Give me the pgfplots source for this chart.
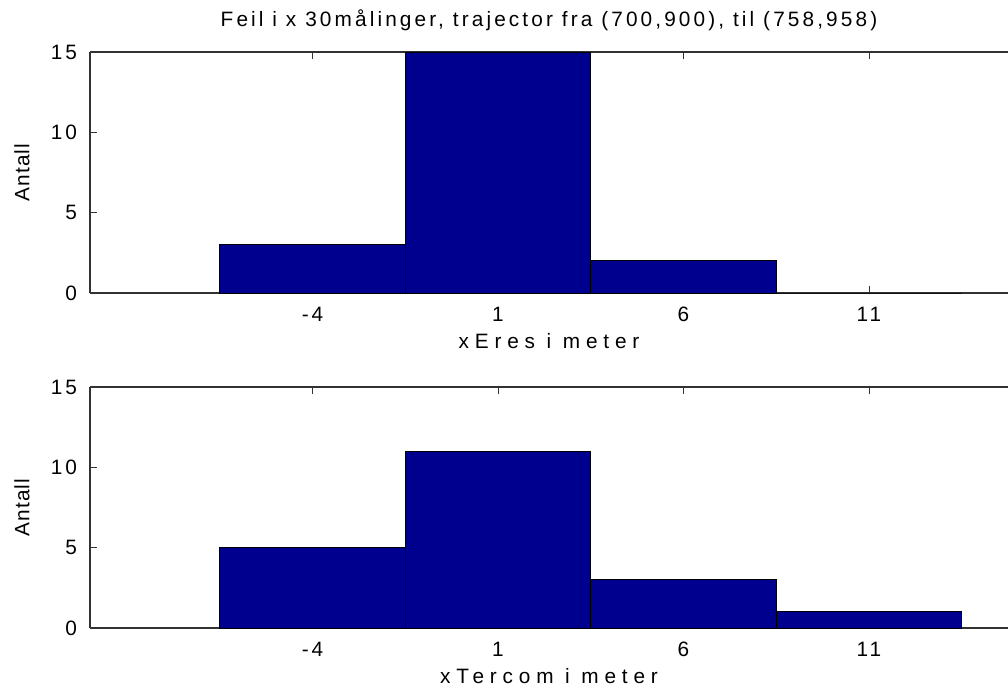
\documentclass[border=0pt]{standalone}
\usepackage{fontspec}
\setmainfont{Liberation Sans}[LetterSpace=14]
\newfontfamily\titlefont{Liberation Sans}[LetterSpace=15]
\newfontfamily\labelfont{Liberation Sans}[LetterSpace=28]
\newfontfamily\ylabfont{Liberation Sans}[LetterSpace=5]
\usepackage{pgfplots}
\pgfplotsset{compat=1.18}
\definecolor{barblue}{RGB}{0,0,143}
\definecolor{axgray}{RGB}{50,50,50}
\pgfplotsset{
  hist/.style={
    scale only axis, width=459pt, height=120.5pt,
    xmin=-10, xmax=14.75, ymin=0, ymax=15,
    xtick={-4,1,6,11}, ytick={0,5,10,15},
    axis x line*=box, axis y line*=left,
    tick align=inside, major tick length=3.5pt,
    tick style={axgray, line width=0.4pt},
    axis line style={axgray, line width=0.7pt},
    font=\fontsize{10.4}{12}\selectfont,
    /pgf/number format/assume math mode=true,
    xticklabel style={anchor=base, yshift=-14.2pt},
    yticklabel style={anchor=east, xshift=-3pt},
    every axis y label/.style={at={(axis description cs:-0.074,0.5)}, rotate=90, anchor=center},
    every axis x label/.style={at={(axis description cs:0.5,0)}, anchor=base, yshift=-27.5pt},
    ylabel={\ylabfont Antall},
  },
  histbar/.style={ybar, bar width=5, bar shift=0pt, fill=barblue, draw=black, line width=0.5pt},
}
\begin{document}
\begin{tikzpicture}
\useasboundingbox (0,0) rectangle (504pt,343.5pt);
\begin{axis}[hist, at={(45pt,197pt)}, anchor=south west,
  title={\titlefont Feil i x 30målinger, trajector fra (700,900), til (758,958)},
  title style={at={(axis description cs:0.5,1)}, anchor=base, yshift=7pt},
  xlabel={\labelfont xEres i meter}]
\addplot[histbar] coordinates {(-4,3) (1,15) (6,2) (11,0)};
\end{axis}
\begin{axis}[hist, at={(45pt,29.5pt)}, anchor=south west,
  xlabel={\labelfont xTercom i meter}]
\addplot[histbar] coordinates {(-4,5) (1,11) (6,3) (11,1)};
\end{axis}
\end{tikzpicture}
\end{document}
